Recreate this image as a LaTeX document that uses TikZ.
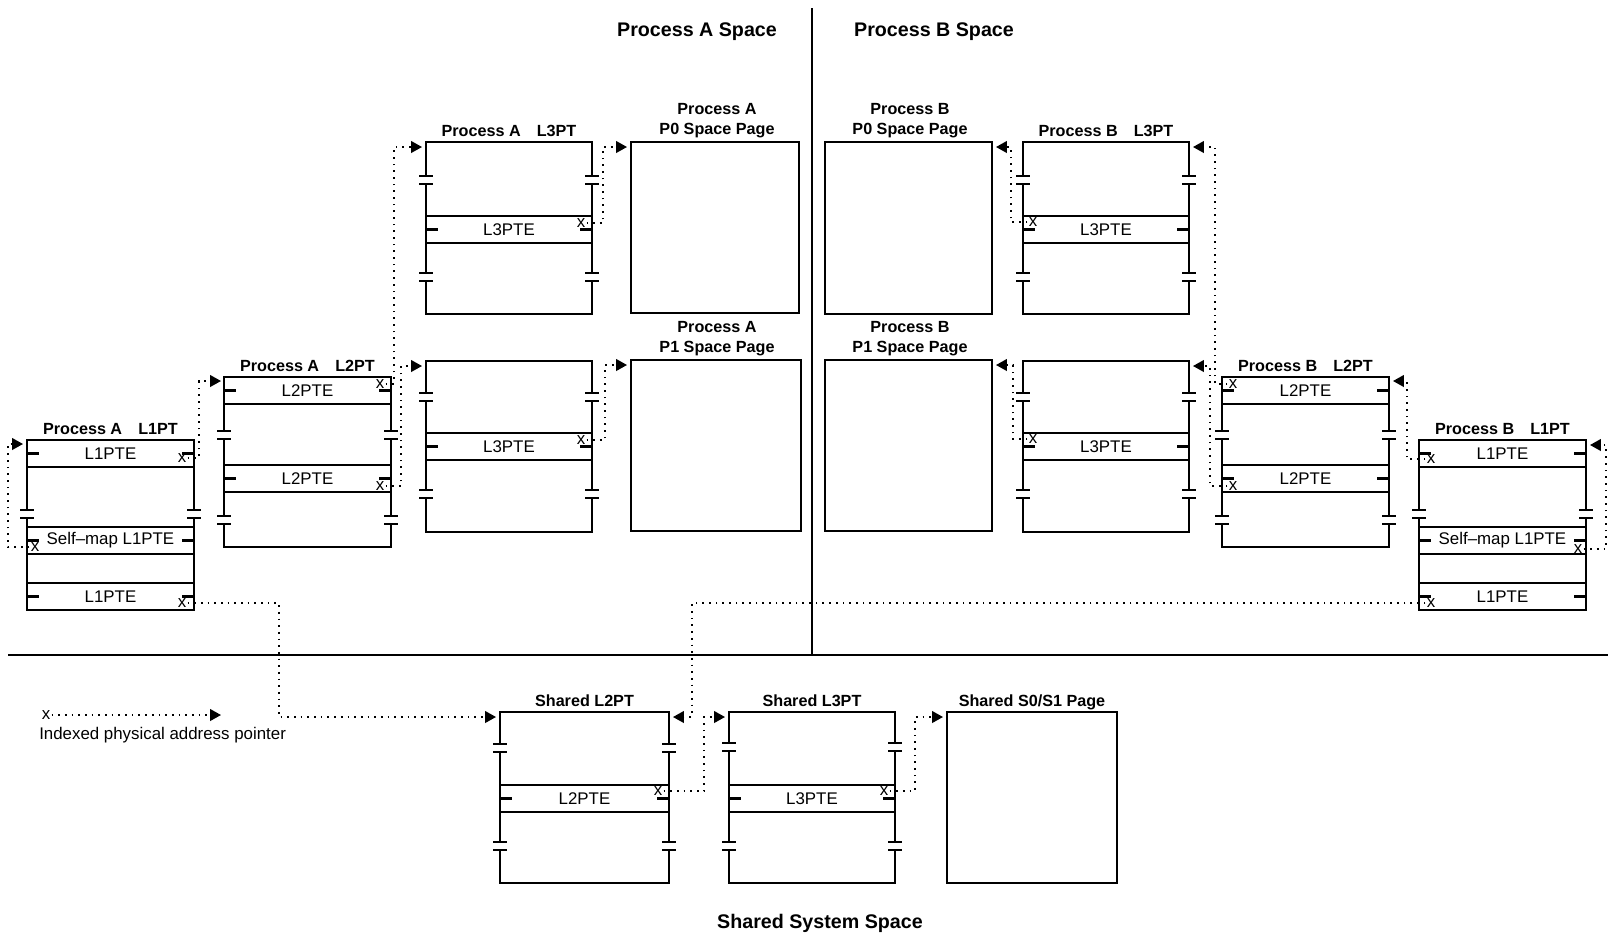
\documentclass[tikz,border=0pt]{standalone}
\usepackage{fontspec}
\setmainfont{Liberation Sans}
\usetikzlibrary{arrows.meta}
\tikzset{
  edge/.style={line width=0.55mm},
  ptr/.style={line width=0.42mm,dash pattern=on 0.42mm off 1.25mm,-{Triangle[length=2.7mm,width=2.9mm]}},
  entry/.style={font=\fontsize{12}{13}\selectfont,inner sep=0pt},
  xmark/.style={font=\fontsize{12}{13}\selectfont,inner sep=0.8pt},
  tbltitle/.style={font=\bfseries\fontsize{11.5}{14.2}\selectfont,anchor=base,inner sep=0pt},
  pgtitle/.style={font=\bfseries\fontsize{11.5}{14.2}\selectfont,anchor=south,align=center,inner sep=0pt},
  secttitle/.style={font=\bfseries\fontsize{14}{17}\selectfont}
}
\newcommand{\PTrow}[4]{\draw[edge] (#1,#3) -- (#2,#3) (#1,#3+27) -- (#2,#3+27)
    (#1,#3+13.5) -- ++(12,0) (#2,#3+13.5) -- ++(-12,0);
  \node[entry] at ({(#1+#2)/2},#3+13.5) {#4};}
\newcommand{\PTbrk}[2]{\fill[white] (#1-3,#2-3) rectangle (#1+3,#2+3);
  \draw[edge] (#1-7,#2-3.8) -- (#1+7,#2-3.8) (#1-7,#2+3.8) -- (#1+7,#2+3.8);}

\begin{document}
\begin{tikzpicture}[x=0.25mm,y=-0.25mm]
  \useasboundingbox (0,0) rectangle (1614,941);
  \draw[edge] (8,655) -- (1608,655) (812,8) -- (812,655);
  \node[secttitle] (secA) at (697,32) {Process A Space};
  \node[secttitle] (secB) at (934,32) {Process B Space};
  \node[secttitle] (secS) at (820,923) {Shared System Space};
  \foreach \l/\r/\t/\b in {27/194/440/610,224/391/377/547,426/592/142/314,426/592/361/532,
      1023/1189/142/314,1023/1189/361/532,1222/1389/377/547,1419/1586/440/610,
      500/669/712/883,729/895/712/883,631/799/142/313,631/801/360/531,825/992/142/314,
      825/992/360/531,947/1117/712/883}
    \draw[edge] (\l,\t) rectangle (\r,\b);
  \foreach \n/\x/\y/\lab in {AL1/110.5/434/Process A\hspace{1em}L1PT,AL2/307.5/371/Process A\hspace{1em}L2PT,
      AL3/509/136/Process A\hspace{1em}L3PT,BL3/1106/136/Process B\hspace{1em}L3PT,
      BL2/1305.5/371/Process B\hspace{1em}L2PT,BL1/1502.5/434/Process B\hspace{1em}L1PT,
      SL2/584.5/706/Shared L2PT,SL3/812/706/Shared L3PT,SP/1032/706/{Shared S0/S1 Page}}
    \node[tbltitle] (ttl\n) at (\x,\y) {\lab};
  \foreach \n/\x/\y/\lab in {AP0/717/138/Process A\\P0 Space Page,AP1/717/356/Process A\\P1 Space Page,
      BP0/910/138/Process B\\P0 Space Page,BP1/910/356/Process B\\P1 Space Page}
    \node[pgtitle] (ttl\n) at (\x,\y) {\lab};
  \foreach \l/\r/\t/\lab in {27/194/440/L1PTE,27/194/527/Self--map L1PTE,27/194/583/L1PTE,
      224/391/377/L2PTE,224/391/465/L2PTE,426/592/216/L3PTE,426/592/433/L3PTE,
      1023/1189/216/L3PTE,1023/1189/433/L3PTE,1222/1389/377/L2PTE,1222/1389/465/L2PTE,
      1419/1586/440/L1PTE,1419/1586/527/Self--map L1PTE,1419/1586/583/L1PTE,
      500/669/785/L2PTE,729/895/785/L3PTE}
    {\PTrow{\l}{\r}{\t}{\lab}}
  \foreach \l/\r/\y in {27/194/514,224/391/435,224/391/520,426/592/180,426/592/277,426/592/397,
      426/592/494,1023/1189/180,1023/1189/277,1023/1189/397,1023/1189/494,1222/1389/435,
      1222/1389/520,1419/1586/514,500/669/748,500/669/846,729/895/747,729/895/846}
    {\PTbrk{\l}{\y}\PTbrk{\r}{\y}}
  \foreach \n/\x/\y in {AL1a/182/458,AL1s/35/547,AL1c/182/603,AL2a/380/384,AL2b/380/486,
      AL3a/581/223,AL3b/581/440,BL1a/1431/459,BL1s/1578/549,BL1c/1431/603,BL2a/1233/384,
      BL2b/1233/486,BL3a/1033/222,BL3b/1033/439,SL2/658/791,SL3/884/791}
    \node[xmark] (x\n) at (\x,\y) {x};
  \foreach \n/\vx/\ty/\tx in {AL1a/199/381/221,AL1s/8/444/23,AL1c/279/717/496,AL2a/394/147/422,
      AL2b/401/366/422,AL3a/603/147/627,AL3b/605/365/627,BL1a/1407/381/1393,BL1s/1606/445/1590,
      BL1c/692/717/673,BL2a/1215/147/1193,BL2b/1210/366/1193,BL3a/1011/147/996,
      BL3b/1013/365/996,SL2/704/717/725,SL3/915/717/943}{
    \coordinate (bend\n) at (\vx,\ty);
    \coordinate (tip\n) at (\tx,\ty);
    \draw[ptr] (x\n) -| (bend\n) -- (tip\n);
  }
  \node[xmark] (xLeg) at (46,715) {x};
  \coordinate (tipLeg) at (221,715);
  \draw[ptr] (xLeg) -- (tipLeg);
  \node[entry,anchor=west] (legText) at (39,735) {Indexed physical address pointer};
\end{tikzpicture}
\end{document}
